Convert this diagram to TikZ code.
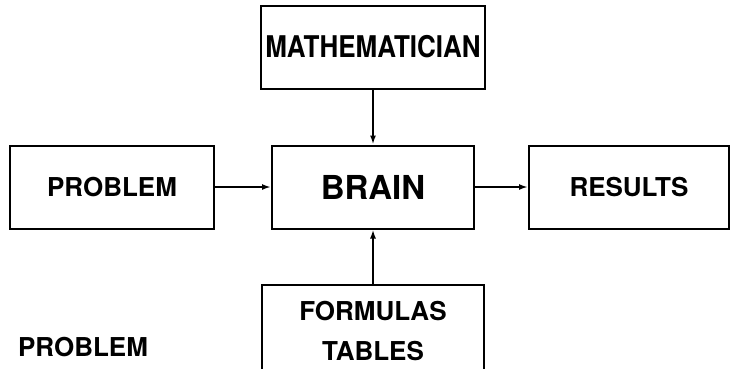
\documentclass[tikz,border=0pt]{standalone}
\usepackage{fontspec}
\setsansfont{TeX Gyre Heros}
\usetikzlibrary{arrows.meta, positioning}

\begin{document}
\begin{tikzpicture}[
    x=1pt, y=-1pt,
    block/.style={
      rectangle, draw=black, line width=2pt,
      minimum height=83pt, minimum width=202pt,
      text centered, font=\sffamily\bfseries\fontsize{26}{40}\selectfont,
      inner sep=2pt
    },
    arrow/.style={-{Latex[length=9pt,width=6pt]}, line width=2pt, draw=black}
  ]
    \useasboundingbox (0,0) rectangle (730,368);

    \node[block, font=\sffamily\bfseries\fontsize{33}{40}\selectfont] (brain) at (373,187) {BRAIN};
    \node[block, minimum width=204pt, left=56pt of brain] (problem) {PROBLEM};
    \node[block, minimum width=200pt, right=53pt of brain] (results) {RESULTS};
    \node[block, minimum width=224pt, above=55pt of brain] (math) {\scalebox{1}[1.15]{MATHEMATICIAN}};
    \node[block, minimum width=222pt, minimum height=94pt, align=center, below=54pt of brain] (tables) {FORMULAS\\TABLES};
    \node[font=\sffamily\bfseries\fontsize{26}{40}\selectfont] (label) at (83,347) {PROBLEM};

    \draw[arrow] (problem) -- (brain);
    \draw[arrow] (brain) -- (results);
    \draw[arrow] (math) -- (brain);
    \draw[arrow] (tables) -- (brain);
\end{tikzpicture}
\end{document}
